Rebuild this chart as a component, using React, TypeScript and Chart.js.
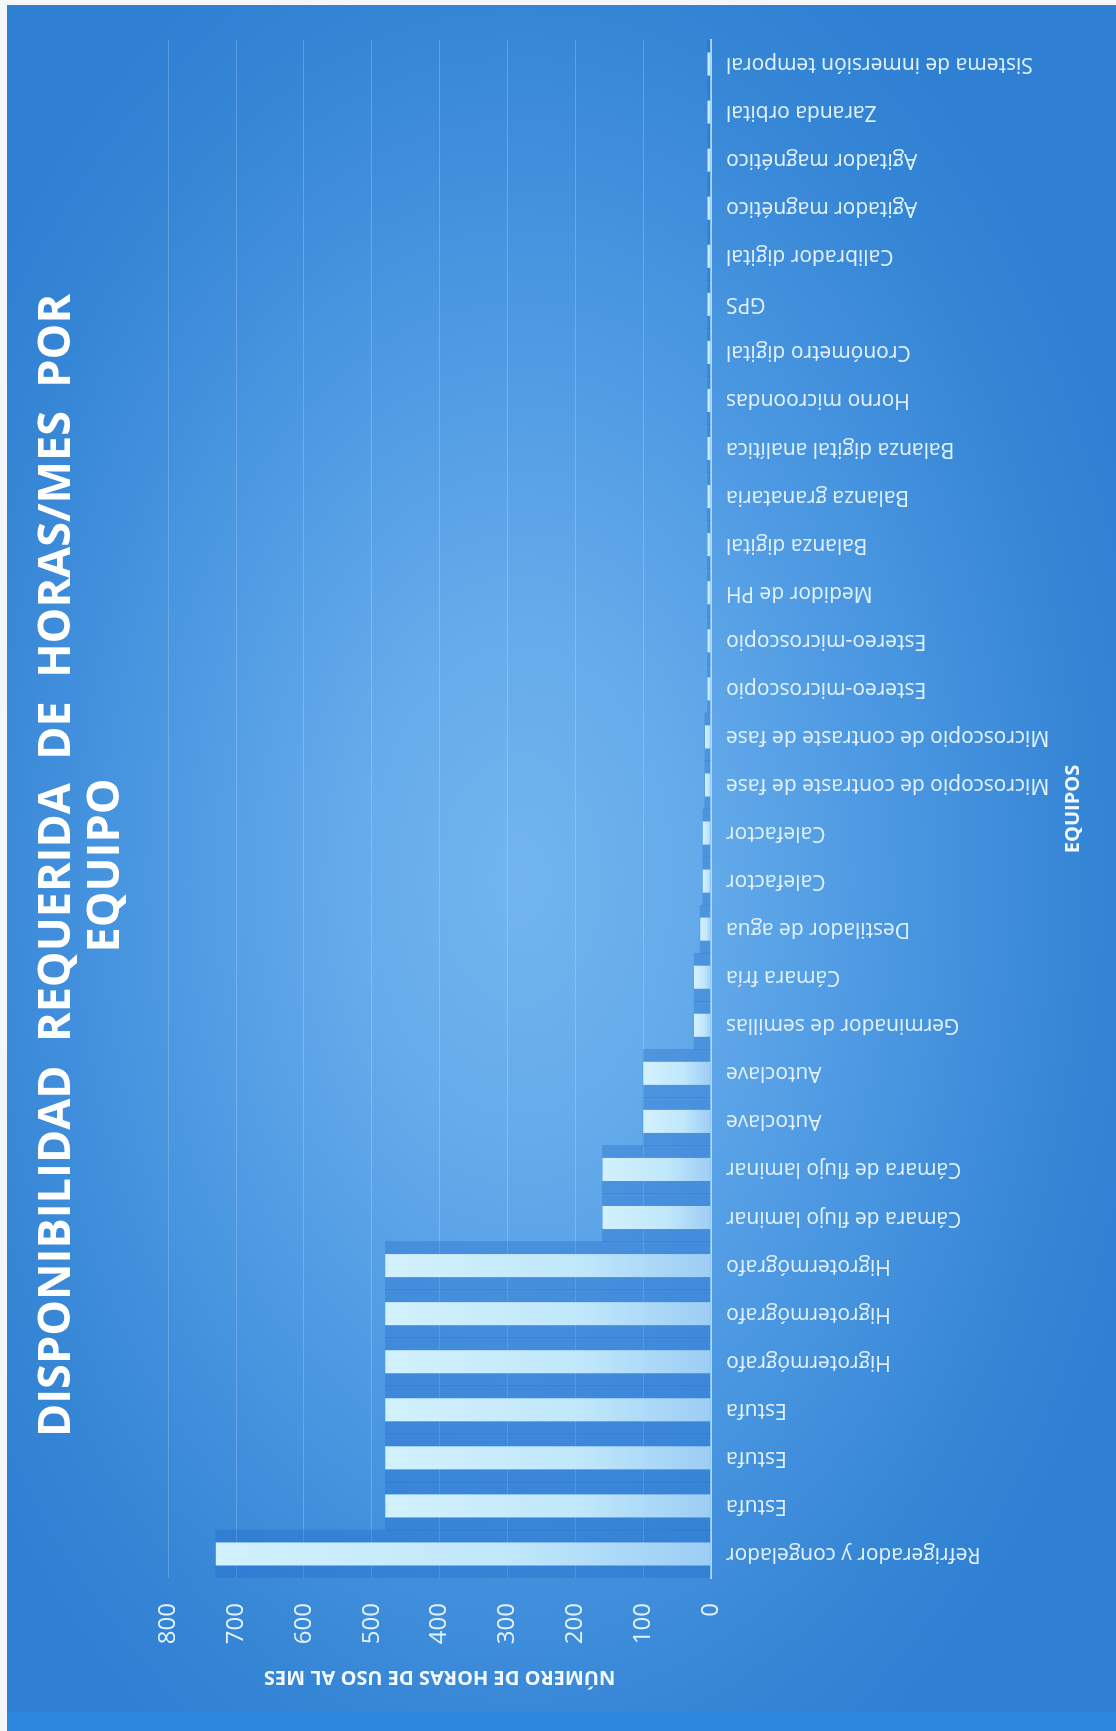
import React, { useEffect, useRef } from 'react';
import { Chart, registerables } from 'chart.js';

Chart.register(...registerables);

const TITLE_LINES = ['DISPONIBILIDAD  REQUERIDA  DE  HORAS/MES  POR', 'EQUIPO'];
const X_TITLE = 'EQUIPOS';
const Y_TITLE = 'NÚMERO DE HORAS DE USO AL MES';

const EQUIPOS = [
  'Refrigerador y congelador',
  'Estufa',
  'Estufa',
  'Estufa',
  'Higrotermógrafo',
  'Higrotermógrafo',
  'Higrotermógrafo',
  'Cámara de flujo laminar',
  'Cámara de flujo laminar',
  'Autoclave',
  'Autoclave',
  'Germinador de semillas',
  'Cámara fría',
  'Destilador de agua',
  'Calefactor',
  'Calefactor',
  'Microscopio de contraste de fase',
  'Microscopio de contraste de fase',
  'Estereo-microscopio',
  'Estereo-microscopio',
  'Medidor de PH',
  'Balanza digital',
  'Balanza granataria',
  'Balanza digital analítica',
  'Horno microondas',
  'Cronómetro digital',
  'GPS',
  'Calibrador digital',
  'Agitador magnético',
  'Agitador magnético',
  'Zaranda orbital',
  'Sistema de inmersión temporal',
];

const HORAS_MES = [
  730, 480, 480, 480, 480, 480, 480, 160, 160, 100, 100, 25, 25, 16, 12, 12, 9, 9,
  5, 5, 5, 5, 5, 5, 5, 5, 5, 5, 5, 5, 5, 5,
];

const HOUR_TICKS = [0, 100, 200, 300, 400, 500, 600, 700, 800];

const FONT = "'Open Sans', 'DejaVu Sans', sans-serif";

const backgroundPlugin = {
  id: 'bgPanel',
  beforeDraw(chart: any) {
    const { ctx, width, height } = chart;
    ctx.save();
    ctx.fillStyle = '#f4f7fa';
    ctx.fillRect(0, 0, width, height);
    const px0 = 0, py0 = 7, px1 = width - 5, py1 = height;
    ctx.beginPath();
    ctx.rect(px0, py0, px1 - px0, py1 - py0);
    ctx.clip();
    ctx.fillStyle = '#2f80d3';
    ctx.fillRect(px0, py0, px1 - px0, py1 - py0);
    ctx.save();
    ctx.translate(851, 520);
    ctx.scale(1.55, 1);
    const g = ctx.createRadialGradient(0, 0, 0, 0, 0, 660);
    g.addColorStop(0, '#72b5ee');
    g.addColorStop(0.25, '#66aceb');
    g.addColorStop(0.55, '#4c98e2');
    g.addColorStop(0.85, '#3686d6');
    g.addColorStop(1, '#2f80d3');
    ctx.fillStyle = g;
    ctx.fillRect(-900, -900, 1800, 1800);
    ctx.restore();
    ctx.fillStyle = '#2d87de';
    ctx.fillRect(0, py0, 19, py1 - py0);
    ctx.restore();
  },
};

export default function App() {
  const ref = useRef<HTMLCanvasElement>(null);

  useEffect(() => {
    const canvas = ref.current;
    if (!canvas) return;

    const barFill = (c: any) => {
      const chart = c.chart;
      const { ctx, chartArea } = chart;
      if (!chartArea || !chart.scales || !chart.scales.y) return '#c4e8fb';
      const ys = chart.scales.y;
      const v = Number(c.raw) || 0;
      const y0 = ys.getPixelForValue(0);
      const y1 = ys.getPixelForValue(v);
      if (Math.abs(y0 - y1) < 2) return '#a9d7f7';
      const g = ctx.createLinearGradient(0, y0, 0, y1);
      g.addColorStop(0, '#9ccdf4');
      g.addColorStop(0.4, '#c0e7fc');
      g.addColorStop(1, '#d2f1fe');
      return g;
    };

    const chart = new Chart(canvas, {
      type: 'bar',
      data: {
        labels: EQUIPOS,
        datasets: [
          {
            label: 'Horas/mes',
            data: HORAS_MES,
            backgroundColor: barFill,
            borderWidth: 0,
            barPercentage: 0.48,
            categoryPercentage: 1,
            grouped: false,
            order: 0,
          },
          {
            label: 'sombra',
            data: HORAS_MES,
            backgroundColor: 'rgba(25,100,200,0.3)',
            borderWidth: 0,
            barPercentage: 1,
            categoryPercentage: 1,
            grouped: false,
            order: 1,
          },
        ],
      },
      options: {
        responsive: false,
        animation: false,
        layout: { padding: 0 },
        plugins: {
          legend: { display: false },
          tooltip: { enabled: false },
          title: {
            display: true,
            text: TITLE_LINES,
            color: '#ffffff',
            font: { family: FONT, size: 45, weight: 'bold', lineHeight: 1.08 },
            padding: { top: 33, bottom: 38 },
          },
        },
        scales: {
          x: {
            type: 'category',
            grid: { display: false, drawTicks: false },
            border: { display: true, color: '#b0dbf8', width: 2 },
            ticks: {
              autoSkip: false,
              maxRotation: 90,
              minRotation: 90,
              padding: 15,
              color: '#e3f2fe',
              font: { family: FONT, size: 21 },
            },
            title: {
              display: true,
              text: X_TITLE,
              color: '#f2f9ff',
              font: { family: FONT, size: 20, weight: 'bold' },
              padding: { top: 0, bottom: 31 },
            },
            afterFit: (s: any) => {
              s.height = 405;
            },
          },
          y: {
            min: 0,
            max: 800,
            afterBuildTicks: (s: any) => {
              s.ticks = HOUR_TICKS.map((v) => ({ value: v }));
            },
            grid: { color: 'rgba(255,255,255,0.2)', lineWidth: 1, drawTicks: false },
            border: { display: false },
            ticks: {
              padding: 25,
              color: '#e3f2fe',
              font: { family: FONT, size: 24 },
            },
            title: {
              display: true,
              text: Y_TITLE,
              color: '#f2f9ff',
              font: { family: FONT, size: 20, weight: 'bold' },
              padding: { top: 42, bottom: 0 },
            },
            afterFit: (s: any) => {
              s.width = 153;
            },
          },
          yRight: {
            position: 'right',
            display: true,
            min: 0,
            max: 800,
            grid: { display: false, drawTicks: false },
            border: { display: false },
            ticks: { display: false },
            afterFit: (s: any) => {
              s.width = 40;
            },
          },
        },
      } as any,
      plugins: [backgroundPlugin],
    });

    return () => chart.destroy();
  }, []);

  return (
    <div
      style={{
        position: 'absolute',
        left: 0,
        top: 0,
        width: 1116,
        height: 1731,
        overflow: 'hidden',
        background: '#f4f7fa',
      }}
    >
      <div
        style={{
          position: 'absolute',
          left: 0,
          top: 0,
          width: 1731,
          height: 1116,
          transformOrigin: '0 0',
          transform: 'translate(0px, 1731px) rotate(-90deg)',
        }}
      >
        <canvas
          ref={ref}
          width={1731}
          height={1116}
          style={{ display: 'block', width: 1731, height: 1116 }}
        />
      </div>
    </div>
  );
}
